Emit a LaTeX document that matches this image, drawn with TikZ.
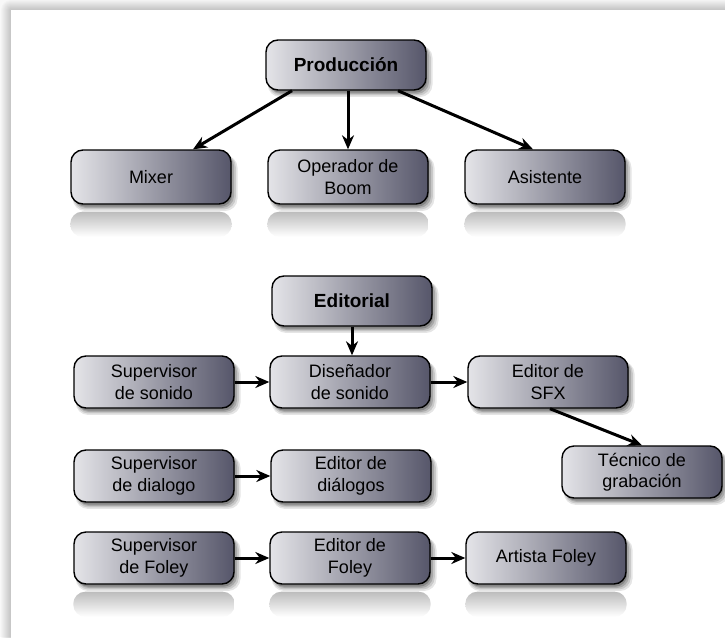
\documentclass[tikz,border=0pt]{standalone}
\usepackage{fontspec}
\setmainfont{Liberation Sans}
\usetikzlibrary{arrows.meta,shadows}

\definecolor{boxL}{RGB}{228,228,232}
\definecolor{boxR}{RGB}{86,86,106}
\definecolor{pagebg}{RGB}{248,248,248}

\pgfdeclarelayer{back}
\pgfdeclarelayer{mirror}
\pgfsetlayers{back,mirror,main}

\tikzset{
  softshadow/.style={
    general shadow={fill=black, opacity=0.10, shadow xshift=4pt, shadow yshift=-6pt, shadow scale=1.03},
    general shadow={fill=black, opacity=0.12, shadow xshift=3.5pt, shadow yshift=-5pt, shadow scale=1.015},
    general shadow={fill=black, opacity=0.16, shadow xshift=3pt, shadow yshift=-4pt},
    general shadow={fill=black, opacity=0.20, shadow xshift=2pt, shadow yshift=-3pt, shadow scale=0.99}},
  rolebox/.style={
    rounded corners=12pt, minimum width=160pt, minimum height=52pt,
    draw=black, line width=1.4pt, left color=boxL, right color=boxR,
    align=center, text=black, inner sep=2pt,
    font=\fontsize{18}{21.5}\selectfont, softshadow},
  headbox/.style={rolebox, font=\fontsize{19}{22}\selectfont\bfseries},
  link/.style={line width=3pt, -{Stealth[length=14pt,width=12pt]}},
}

% faded mirror image under a box
\newcommand\mirrorbox[1]{%
  \shade[top color=black!26, bottom color=white, rounded corners=12pt]
    ([yshift=-7pt]#1.south west) rectangle ([yshift=-32pt]#1.south east);}

\begin{document}
\begin{tikzpicture}[x=1pt,y=-1pt]
  \useasboundingbox (0,0) rectangle (725,637);

  % sheet with soft edge
  \begin{pgfonlayer}{back}
    \fill[pagebg] (0,0) rectangle (725,637);
    \foreach \i in {1,...,10}
      \fill[black, opacity=0.02, rounded corners=\i pt]
        (11-\i,10-\i) rectangle (760,680);
    \fill[white] (11,10) rectangle (760,680);
  \end{pgfonlayer}

  % production team
  \node[headbox, minimum height=50pt] (prod) at (346,65) {Producción};
  \node[rolebox, minimum height=54pt] (mixer) at (151,177) {Mixer};
  \node[rolebox, minimum height=54pt] (oper)  at (348,177) {Operador de\\Boom};
  \node[rolebox, minimum height=54pt] (asis)  at (545,177) {Asistente};

  % editorial team
  \node[headbox, minimum height=50pt] (edit) at (352,301) {Editorial};
  \node[rolebox] (sups) at (154,382) {Supervisor\\de sonido};
  \node[rolebox] (dis)  at (350,382) {Diseñador\\de sonido};
  \node[rolebox] (sfx)  at (548,382) {Editor de\\SFX};
  \node[rolebox] (tec)  at (642,472) {Técnico de\\grabación};
  \node[rolebox] (supd) at (154,476) {Supervisor\\de dialogo};
  \node[rolebox] (edd)  at (351,476) {Editor de\\diálogos};
  \node[rolebox] (supf) at (154,558) {Supervisor\\de Foley};
  \node[rolebox] (edf)  at (350,558) {Editor de\\Foley};
  \node[rolebox] (art)  at (546,558) {Artista Foley};

  \begin{pgfonlayer}{mirror}
    \mirrorbox{mixer}\mirrorbox{oper}\mirrorbox{asis}
    \mirrorbox{supf}\mirrorbox{edf}\mirrorbox{art}
  \end{pgfonlayer}

  % connectors
  \draw[link] ([xshift=-54pt]prod.south) -- ([xshift=42pt]mixer.north);
  \draw[link] (prod.south -| oper.north) -- (oper.north);
  \draw[link] ([xshift=52pt]prod.south) -- ([xshift=-12pt]asis.north);

  \draw[link] (edit.south) -- (edit.south |- dis.north);
  \draw[link] (sups.east) -- (dis.west);
  \draw[link] (dis.east) -- (sfx.west);
  \draw[link] ([xshift=2pt]sfx.south) -- (tec.north);
  \draw[link] (supd.east) -- (edd.west);
  \draw[link] (supf.east) -- (edf.west);
  \draw[link] (edf.east) -- (art.west);
\end{tikzpicture}
\end{document}
